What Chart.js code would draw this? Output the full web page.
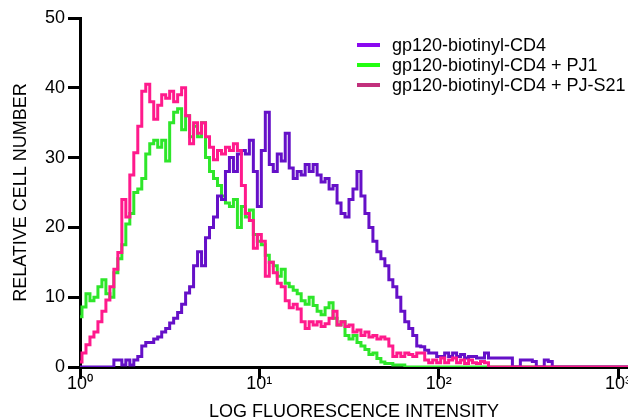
<!DOCTYPE html>
<html>
<head>
<meta charset="utf-8">
<script src="https://cdn.jsdelivr.net/npm/chart.js@4"></script>
<style>
  html, body { margin: 0; padding: 0; background: #fff; overflow: hidden; }
  #wrap { position: relative; width: 628px; height: 419px; }
  canvas { display: block; }
  #legend { position: absolute; left: 357px; top: 35px; font-family: "Liberation Sans", Arial, Helvetica, sans-serif; font-size: 18px; color: #000; }
  .row { position: relative; height: 20px; line-height: 20px; white-space: nowrap; }
  .sw { position: absolute; left: 0; top: 8px; width: 23px; height: 4px; }
  .tx { position: absolute; left: 35px; top: 0; }
</style>
</head>
<body>
<div id="wrap">
  <canvas id="c" width="628" height="419"></canvas>
  <div id="legend"></div>
</div>
<script>
// ---- data ----
const CHANNELS_PER_DECADE = 45;

const seriesNames = ['gp120-biotinyl-CD4', 'gp120-biotinyl-CD4 + PJ1', 'gp120-biotinyl-CD4 + PJ-S21'];

const cd4 = [
  0,0,0,0,0,0,0,0,0,1,
  1,0.3,1,0.3,1,1.5,3,3.5,3.5,4,
  4.3,5,5.5,6.3,7,7.8,9,10.6,11.5,14.5,
  16.5,14.5,18.5,20,21.5,24.5,24,28,30,28,
  30.5,31,30.5,32.5,28,23,31,36.5,29,28,
  30.5,29.5,33.5,28.5,27,28,27.5,29,28,29,
  27.5,26.5,27,25.5,26,23.5,22,21.5,24,25.5,
  28,24.5,22,20,18,16.5,15.5,14.5,12.5,11.5,
  10,8,6.5,5.5,4.5,3,2.9,2.4,2,2,
  1.5,1.5,2,1.5,2,1.5,1.8,1.3,1.5,1.5,
  1.3,1.3,2,1.3,1.3,1.3,1.3,1.3,1.3,0,
  0,1,1,1,0.8,0,0,1,0.8,0,
  0,0,0,0,0,0,0,0,0,0,
  0,0,0,0,0,0,0,0,0,0
];

const cd4PJ1 = [
  7.2,8.6,10.5,9.5,10,11.5,12.5,10.5,10,13.5,
  15.5,17.5,20.5,22,25,25.5,27,30.5,32,32.5,
  31.5,32.5,29.5,35,36.5,37,34,36,33,34.5,
  33,35,30,28,27,26,24.5,23.5,23,24,
  20,23,21.5,22.5,19,18,17.5,16,15,14.5,
  13,14,12,11.5,11,10.5,9.5,9,10,8.8,
  8,7.5,8.5,9.2,7,6,6.5,4.5,4,4.5,
  3.5,3,2.5,1.8,2,1.2,0.7,0.5,0.5,0.3,
  0.3,0.3,0,0,0,0,0,0,0,0,
  0,0,0,0,0,0,0,0,0,0,
  0,0,0,0,0,0,0,0,0,0,
  0,0,0,0,0,0,0,0,0,0,
  0,0,0,0,0,0,0,0,0,0,
  0,0,0,0,0,0,0,0,0,0
];

const cd4PJS21 = [
  0.7,2,3.2,4.3,5,6.5,8,9.6,11.5,14,
  16.4,24,21.5,27.5,30.7,34.5,39.5,40.5,38,35.5,
  37.5,39,38.5,39.5,38,39,40,36,32,35,
  33.5,35,33,31.5,29.7,31,30.5,31.5,31,32,
  31,26,22,21,17,19,18,13,15,13.5,
  12,11.5,9.5,8.5,9,8.3,6.5,5.5,6.5,6,
  6.5,5.8,6.2,7,8,6,6.5,5.8,6,5,
  5.3,4.5,5,4.3,4.5,4,4.3,4,3,1.5,
  2,1.5,2,1.8,1.5,2,2,1,0.6,1,
  0.6,1.3,0.6,1,1.3,0.6,1,0.5,1,0.6,
  0.5,0.8,0.6,0,0,0,0,0,0,0,
  0,0,0,0,0,0,0,0,0,0,
  0,0,0,0,0,0,0,0,0,0,
  0,0,0,0,0,0,0,0,0,0
];

const xTickValues = [1, 10, 100, 1000];
const xTickLabels = ['10\u2070', '10\u00B9', '10\u00B2', '10\u00B3'];
const yTickValues = [0, 10, 20, 30, 40, 50];

const lineColors = ['#6510c8', '#2ee62a', '#ff1a8c'];
const legendColors = ['#8a08f0', '#22ff10', '#c2307c'];

// ---- build ----
const FONT = '"Liberation Sans", Arial, Helvetica, sans-serif';
function toPoints(arr) {
  return arr.map((v, i) => ({ x: Math.pow(10, i / CHANNELS_PER_DECADE), y: v }));
}
const allSeries = [cd4, cd4PJ1, cd4PJS21];
const drawOrder = [1, 2, 0];

const datasets = allSeries.map((s, k) => ({
  label: seriesNames[k],
  data: toPoints(s),
  borderColor: lineColors[k],
  backgroundColor: lineColors[k],
  borderWidth: 3,
  pointRadius: 0,
  stepped: 'middle',
  fill: false,
  order: drawOrder[k]
}));

const leg = document.getElementById('legend');
seriesNames.forEach((n, k) => {
  const row = document.createElement('div');
  row.className = 'row';
  const sw = document.createElement('span');
  sw.className = 'sw';
  sw.style.background = legendColors[k];
  const tx = document.createElement('span');
  tx.className = 'tx';
  tx.textContent = n;
  row.appendChild(sw);
  row.appendChild(tx);
  leg.appendChild(row);
});

new Chart(document.getElementById('c'), {
  type: 'line',
  data: { datasets },
  options: {
    responsive: false,
    animation: false,
    devicePixelRatio: 1,
    layout: { padding: { top: 18, right: 0, bottom: 0, left: 0 } },
    plugins: { legend: { display: false }, tooltip: { enabled: false } },
    scales: {
      x: {
        type: 'logarithmic',
        min: 1,
        max: 1137,
        z: 1,
        afterBuildTicks: (sc) => { sc.ticks = xTickValues.map(v => ({ value: v, major: true })); },
        afterFit: (sc) => { sc.height = 52; sc.paddingLeft = 0; sc.paddingRight = 0; },
        border: { display: true, color: '#000', width: 3 },
        grid: { display: true, drawOnChartArea: false, drawTicks: true, tickLength: 12, tickWidth: 3, tickColor: '#000' },
        ticks: {
          autoSkip: false, maxRotation: 0, color: '#000', padding: -4,
          font: { family: FONT, size: 18, lineHeight: 1 },
          callback: (v) => { const i = xTickValues.indexOf(v); return i >= 0 ? xTickLabels[i] : ''; }
        },
        title: { display: true, text: 'LOG FLUORESCENCE INTENSITY', color: '#000', font: { family: FONT, size: 18, lineHeight: 1 }, padding: { top: 0, bottom: -2 } }
      },
      y: {
        min: 0,
        max: 50,
        z: 1,
        afterBuildTicks: (sc) => { sc.ticks = yTickValues.map(v => ({ value: v })); },
        afterFit: (sc) => { sc.width = 80; sc.paddingTop = 0; sc.paddingBottom = 0; },
        border: { display: true, color: '#000', width: 3 },
        grid: { display: true, drawOnChartArea: false, drawTicks: true, tickLength: 12, tickWidth: 3, tickColor: '#000' },
        ticks: { color: '#000', padding: 3, font: { family: FONT, size: 18, lineHeight: 1 } },
        title: { display: true, text: 'RELATIVE CELL NUMBER', color: '#000', font: { family: FONT, size: 18, lineHeight: 1 }, padding: { top: 12, bottom: 0 } }
      }
    }
  }
});
</script>
</body>
</html>
